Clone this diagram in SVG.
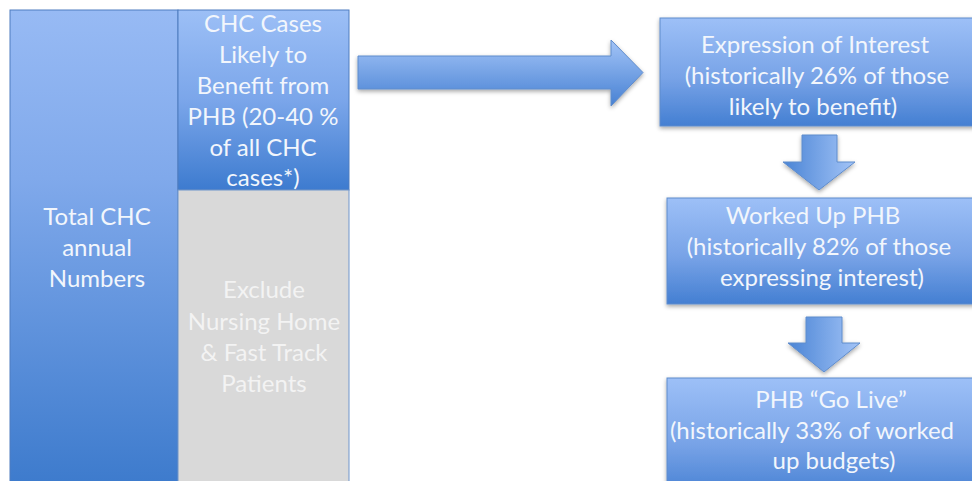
<svg xmlns="http://www.w3.org/2000/svg" width="972" height="481" viewBox="0 0 972 481">
<defs>
<linearGradient id="gCol" x1="0" y1="0" x2="0" y2="1"><stop offset="0" stop-color="#97baf4"/><stop offset="0.35" stop-color="#80a9eb"/><stop offset="1" stop-color="#3c7acc"/></linearGradient>
<linearGradient id="gTop" x1="0" y1="0" x2="0" y2="1"><stop offset="0" stop-color="#9cbff6"/><stop offset="0.5" stop-color="#7ba6ea"/><stop offset="1" stop-color="#3d7bcf"/></linearGradient>
<linearGradient id="gBox" x1="0" y1="0" x2="0" y2="1"><stop offset="0" stop-color="#9dc0f7"/><stop offset="0.55" stop-color="#78a3e7"/><stop offset="1" stop-color="#447fd2"/></linearGradient>
<linearGradient id="gArr" x1="0" y1="0" x2="0" y2="1"><stop offset="0" stop-color="#a3c4f7"/><stop offset="1" stop-color="#4781d3"/></linearGradient>
<linearGradient id="gDown" x1="0" y1="0" x2="1" y2="0"><stop offset="0" stop-color="#4a84d5"/><stop offset="1" stop-color="#a3c4f7"/></linearGradient>
<filter id="sh" x="-10%" y="-10%" width="120%" height="130%"><feDropShadow dx="0" dy="2" stdDeviation="2" flood-color="#000" flood-opacity="0.35"/></filter>
<style>
.t{font-family:Lato,"Open Sans","Liberation Sans",sans-serif;font-size:24px;fill:#f2f6fc;text-anchor:middle}
.g{fill:#f3f3f3}
.box{fill:url(#gBox);stroke:#5f8ccc;stroke-width:1;filter:url(#sh)}
.arr{stroke:#5f8ccc;stroke-width:1;filter:url(#sh)}
</style>
</defs>
<g id="total-chc">
<rect x="10" y="10" width="168" height="480" fill="url(#gCol)" stroke="#4f7cbf" stroke-width="1"/>
<text class="t" x="97" y="225">Total CHC</text>
<text class="t" x="97" y="256">annual</text>
<text class="t" x="97" y="287">Numbers</text>
</g>
<g id="likely-benefit">
<rect x="178" y="10" width="171" height="180" fill="url(#gTop)" stroke="#4f7cbf" stroke-width="1"/>
<text class="t" x="263" y="32">CHC Cases</text>
<text class="t" x="263" y="63">Likely to</text>
<text class="t" x="263" y="94">Benefit from</text>
<text class="t" x="263" y="125">PHB (20-40 %</text>
<text class="t" x="263" y="156">of all CHC</text>
<text class="t" x="263" y="186">cases*)</text>
</g>
<g id="exclude">
<rect x="178" y="190" width="171" height="300" fill="#d9d9d9" stroke="#6f95cc" stroke-width="1"/>
<text class="t g" x="264" y="298">Exclude</text>
<text class="t g" x="264" y="330">Nursing Home</text>
<text class="t g" x="264" y="361">&amp; Fast Track</text>
<text class="t g" x="264" y="392">Patients</text>
</g>
<g id="connectors">
<path class="arr" fill="url(#gArr)" d="M358,56 L611,56 L611,40 L643,72.5 L611,106 L611,89 L358,89 Z"/>
<path class="arr" fill="url(#gDown)" d="M802,135 L837,135 L837,162 L855,162 L819,190 L783,162 L802,162 Z"/>
<path class="arr" fill="url(#gDown)" d="M806,317 L842,317 L842,343 L860,343 L824,372 L788,343 L806,343 Z"/>
</g>
<g id="expression">
<rect class="box" x="660" y="18" width="330" height="108"/>
<text class="t" x="815" y="53">Expression of Interest</text>
<text class="t" x="817" y="84">(historically 26% of those</text>
<text class="t" x="813" y="115">likely to benefit)</text>
</g>
<g id="worked-up">
<rect class="box" x="667" y="198" width="330" height="106"/>
<text class="t" x="813" y="224">Worked Up PHB</text>
<text class="t" x="819" y="255">(historically 82% of those</text>
<text class="t" x="822" y="286">expressing interest)</text>
</g>
<g id="go-live">
<rect class="box" x="667" y="378" width="330" height="120"/>
<text class="t" x="831" y="408">PHB “Go Live”</text>
<text class="t" x="812" y="439">(historically 33% of worked</text>
<text class="t" x="834" y="469">up budgets)</text>
</g>
</svg>
